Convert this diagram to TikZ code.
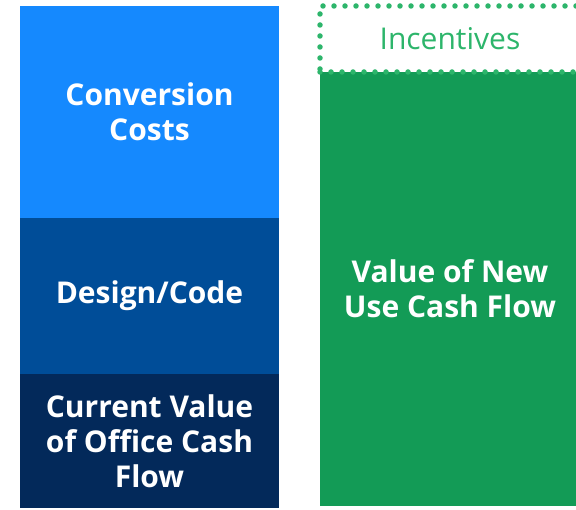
\documentclass[tikz,border=0pt]{standalone}
\usepackage{fontspec}
\setmainfont{Open Sans}
\usetikzlibrary{positioning}
\definecolor{convblue}{HTML}{1589FE}
\definecolor{designblue}{HTML}{004D98}
\definecolor{officenavy}{HTML}{03295A}
\definecolor{newgreen}{HTML}{139B56}
\definecolor{incgreen}{HTML}{2DB56B}

\begin{document}
\begin{tikzpicture}[
    x=1pt, y=1pt,
    block/.style={minimum width=259pt, inner sep=0pt, outer sep=0pt, align=center, text=white, font=\fontsize{30}{35}\selectfont\bfseries},
    gblock/.style={minimum width=260pt, inner sep=0pt, outer sep=0pt, align=center, text=white, fill=newgreen, font=\fontsize{30}{35}\selectfont\bfseries},
    dotbox/.style={draw=incgreen, line width=5.5pt, line cap=round, dash pattern=on 0pt off 11pt, minimum width=260pt, minimum height=66pt, inner sep=0pt, outer sep=0pt, text=incgreen, font=\fontsize{30}{35}\selectfont}
]
\useasboundingbox (0,0) rectangle (576,510);
% left stack
\node[block, fill=convblue, minimum height=212pt, anchor=north west] (conv) at (20,504) {Conversion\\Costs};
\node[block, fill=designblue, minimum height=156pt, below=0pt of conv] (design) {Design/Code};
\node[block, fill=officenavy, minimum height=134pt, below=0pt of design] (office) {Current Value\\of Office Cash\\Flow};
% right stack
\node[gblock, minimum height=434pt, anchor=north west] (newuse) at (320,438) {Value of New\\Use Cash Flow};
\node[dotbox, above=0pt of newuse] (incent) {Incentives};
\end{tikzpicture}
\end{document}
